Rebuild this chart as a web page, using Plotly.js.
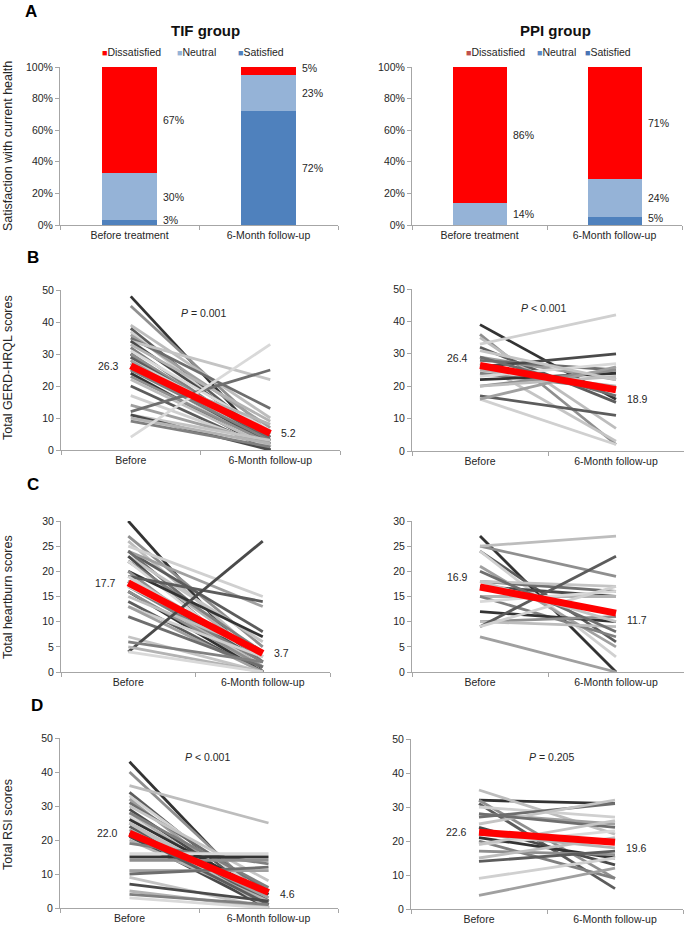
<!DOCTYPE html>
<html>
<head>
<meta charset="utf-8">
<script src="https://cdn.plot.ly/plotly-3.0.1.min.js"></script>
<style>
  html, body { margin: 0; padding: 0; background: #fff; }
  #chart { width: 684px; height: 928px; }
</style>
</head>
<body>
<div id="chart"></div>
<script>
const W = 684, H = 928;

// --- Panel A: satisfaction with current health (%)
const barCategories = ['Before treatment', '6-Month follow-up'];
const legendLabels = ['Dissatisfied', 'Neutral', 'Satisfied'];
const tifDissatisfied = [67, 5];
const tifNeutral = [30, 23];
const tifSatisfied = [3, 72];
const ppiDissatisfied = [86, 71];
const ppiNeutral = [14, 24];
const ppiSatisfied = [0, 5];

// --- Panels B-D: paired patient scores
const timeLabels = ['Before', '6-Month follow-up'];

const tifGerdBefore = [48, 45, 39, 38, 37, 36, 35, 34, 34, 33, 32, 31, 30, 30, 29, 29, 28, 28, 27, 27, 26, 25, 25, 24, 24, 23, 22, 20, 17, 14, 12, 11, 11, 10, 9, 4];
const tifGerdAfter  = [1, 5, 10, 3, 2, 7, 13, 22, 4, 9, 2, 6, 1, 3, 2, 3, 5, 1, 4, 0, 2, 8, 3, 1, 0, 2, 1, 0, 1, 2, 25, 3, 0, 2, 1, 33];
const ppiGerdBefore = [39, 36, 35, 32, 33, 29, 28, 27, 26, 25, 24, 23, 22, 20, 20, 17, 16, 16, 29, 31];
const ppiGerdAfter  = [16, 2, 7, 15, 42, 22, 25, 3, 30, 20, 19, 27, 24, 25, 23, 11, 2, 26, 17, 22];
const tifGerdMean = [26.3, 5.2];
const ppiGerdMean = [26.4, 18.9];

const tifBurnBefore = [30, 27, 26, 24, 25, 24, 24, 23, 23, 22, 22, 22, 20, 20, 19, 19, 19, 18, 18, 18, 18, 18, 17, 17, 16, 16, 15, 14, 13, 13, 11, 7, 4, 5, 6, 4];
const tifBurnAfter  = [0, 5, 3, 8, 15, 13, 2, 6, 0, 3, 4, 1, 7, 0, 3, 14, 2, 0, 1, 1, 2, 0, 2, 4, 0, 1, 4, 0, 3, 0, 1, 0, 26, 0, 2, 0];
const ppiBurnBefore = [27, 25, 25, 24, 24, 21, 18, 18, 17, 15, 15, 14, 12, 10, 10, 9, 9, 7, 20, 18];
const ppiBurnAfter  = [0, 19, 27, 6, 3, 5, 16, 17, 15, 15, 7, 16, 10, 11, 9, 23, 17, 0, 8, 10];
const tifBurnMean = [17.7, 3.7];
const ppiBurnMean = [16.9, 11.7];

const tifRsiBefore = [43, 40, 36, 34, 33, 32, 31, 30, 29, 28, 28, 27, 26, 25, 25, 24, 23, 23, 22, 21, 21, 20, 19, 16, 15, 14, 25, 22, 11, 11, 10, 9, 7, 5, 4, 3];
const tifRsiAfter  = [0, 2, 25, 1, 3, 0, 5, 8, 2, 1, 6, 0, 4, 1, 3, 2, 0, 3, 1, 1, 0, 2, 13, 16, 15, 14, 0, 1, 11, 11, 12, 0, 2, 0, 1, 0];
const ppiRsiBefore = [32, 32, 35, 31, 30, 28, 27, 25, 24, 22, 20, 19, 21, 17, 15, 14, 9, 4, 28, 19];
const ppiRsiAfter  = [31, 9, 22, 6, 27, 25, 31, 32, 13, 18, 9, 23, 15, 16, 21, 17, 15, 12, 24, 26];
const tifRsiMean = [22.0, 4.6];
const ppiRsiMean = [22.6, 19.6];

const pTexts = ['= 0.001', '< 0.001', '< 0.001', '< 0.001', '< 0.001', '= 0.205'];

const grayShades = ['#333333', '#8f8f8f', '#bdbdbd', '#5c5c5c', '#d0d0d0', '#a0a0a0', '#6e6e6e', '#c4c4c4', '#4a4a4a', '#b3b3b3', '#808080', '#d9d9d9'];

const FONT = 'Liberation Sans, Arial, sans-serif';
const textColor = '#262626';
const axisColor = '#a6a6a6';
const px = x => x / W;
const py = y => 1 - y / H;

function xAxis(cats, left, right, anchor) {
    return {
        domain: [px(left), px(right)], anchor: anchor,
        type: 'category', categoryarray: cats, range: [-0.5, 1.5],
        showline: true, linecolor: axisColor, linewidth: 1,
        ticks: 'outside', tickson: 'boundaries', ticklen: 4, tickcolor: axisColor,
        showgrid: false, zeroline: false, fixedrange: true,
        tickfont: { family: FONT, size: 10.5, color: textColor }
    };
}

function yAxis(top, bottom, max, dtick, anchor, suffix) {
    return {
        domain: [py(bottom), py(top)], anchor: anchor,
        range: [0, max], dtick: dtick, ticksuffix: suffix || '',
        showline: true, linecolor: axisColor, linewidth: 1,
        ticks: 'outside', ticklen: 4, tickcolor: axisColor,
        showgrid: false, zeroline: false, fixedrange: true,
        tickfont: { family: FONT, size: 10.5, color: textColor }
    };
}

const traces = [];
const annotations = [];
const layout = {
    width: W, height: H,
    margin: { l: 0, r: 0, t: 0, b: 0 },
    paper_bgcolor: '#fff', plot_bgcolor: '#fff',
    barmode: 'stack', showlegend: false,
    font: { family: FONT, color: textColor }
};

// Stacked bars (panel A)
const barColors = ['#4f81bd', '#95b3d7', '#ff0000'];
const barPanels = [
    { series: [tifSatisfied, tifNeutral, tifDissatisfied], n: '', left: 60, right: 338, title: 'TIF group', titleX: 205,
      legendX: [100, 175, 236], legendColors: ['#ff0000', '#95b3d7', '#4f81bd'] },
    { series: [ppiSatisfied, ppiNeutral, ppiDissatisfied], n: '2', left: 412, right: 682, title: 'PPI group', titleX: 555,
      legendX: [464, 535, 583], legendColors: ['#c0504d', '#5b8ac6', '#4a75b5'] }
];

barPanels.forEach(p => {
    const xa = 'x' + p.n, ya = 'y' + p.n;
    layout['xaxis' + p.n] = xAxis(barCategories, p.left, p.right, ya);
    layout['yaxis' + p.n] = yAxis(67, 225, 100, 20, xa, '%');

    p.series.forEach((vals, k) => {
        traces.push({
            type: 'bar', x: barCategories, y: vals, width: 0.4,
            marker: { color: barColors[k], line: { width: 0 } },
            xaxis: xa, yaxis: ya, hoverinfo: 'skip'
        });
    });

    // value labels to the right of each segment
    barCategories.forEach((c, i) => {
        let base = 0;
        p.series.forEach(vals => {
            const v = vals[i];
            if (v > 0) {
                annotations.push({
                    xref: xa, yref: ya, x: i + 0.23, y: base + v / 2,
                    xanchor: 'left', yanchor: 'middle', showarrow: false,
                    yshift: v < 6 ? 3 : 0,
                    text: v + '%', font: { family: FONT, size: 10.5, color: textColor }
                });
            }
            base += v;
        });
    });

    annotations.push({
        xref: 'paper', yref: 'paper', x: px(p.titleX), y: py(30),
        xanchor: 'center', yanchor: 'middle', showarrow: false,
        text: '<b>' + p.title + '</b>', font: { family: FONT, size: 15, color: '#111' }
    });

    legendLabels.forEach((lab, k) => {
        annotations.push({
            xref: 'paper', yref: 'paper', x: px(p.legendX[k]), y: py(52),
            xanchor: 'left', yanchor: 'middle', showarrow: false,
            text: '<span style="color:' + p.legendColors[k] + ';font-size:9px">■</span>' + lab,
            font: { family: FONT, size: 10.5, color: textColor }
        });
    });
});

// Paired line panels (B-D)
const linePanels = [
    { before: tifGerdBefore, after: tifGerdAfter, mean: tifGerdMean, n: '3', left: 61, right: 340, top: 290, bottom: 450, max: 50, dtick: 10, pX: 0.52, pY: 42.8, shift: [0, 0] },
    { before: ppiGerdBefore, after: ppiGerdAfter, mean: ppiGerdMean, n: '4', left: 412, right: 684, top: 289, bottom: 451, max: 50, dtick: 10, pX: 0.47, pY: 44, shift: [7, -9] },
    { before: tifBurnBefore, after: tifBurnAfter, mean: tifBurnMean, n: '5', left: 61, right: 330, top: 521, bottom: 672, max: 30, dtick: 5, pX: 0.58, pY: 31.6, shift: [0, 0] },
    { before: ppiBurnBefore, after: ppiBurnAfter, mean: ppiBurnMean, n: '6', left: 412, right: 684, top: 521, bottom: 672, max: 30, dtick: 5, pX: 0.49, pY: 31.8, shift: [10, -7] },
    { before: tifRsiBefore, after: tifRsiAfter, mean: tifRsiMean, n: '7', left: 60, right: 338, top: 738, bottom: 908, max: 50, dtick: 10, pX: 0.56, pY: 44.4, shift: [0, -2] },
    { before: ppiRsiBefore, after: ppiRsiAfter, mean: ppiRsiMean, n: '8', left: 411, right: 683, top: 739, bottom: 909, max: 50, dtick: 10, pX: 0.53, pY: 44.7, shift: [0, -6] }
];

linePanels.forEach((p, idx) => {
    const xa = 'x' + p.n, ya = 'y' + p.n;
    layout['xaxis' + p.n] = xAxis(timeLabels, p.left, p.right, ya);
    layout['yaxis' + p.n] = yAxis(p.top, p.bottom, p.max, p.dtick, xa);

    p.before.forEach((b, i) => {
        traces.push({
            type: 'scatter', mode: 'lines', x: timeLabels, y: [b, p.after[i]],
            line: { color: grayShades[i % grayShades.length], width: 2.8 },
            xaxis: xa, yaxis: ya, hoverinfo: 'skip', cliponaxis: false
        });
    });
    traces.push({
        type: 'scatter', mode: 'lines', x: timeLabels, y: p.mean,
        line: { color: '#ff0000', width: 7 },
        xaxis: xa, yaxis: ya, hoverinfo: 'skip', cliponaxis: false
    });

    annotations.push({
        xref: xa, yref: ya, x: 0, y: p.mean[0], xanchor: 'right', yanchor: 'middle',
        xshift: -10, yshift: p.shift[0], showarrow: false,
        text: p.mean[0].toFixed(1), font: { family: FONT, size: 10.5, color: textColor }
    });
    annotations.push({
        xref: xa, yref: ya, x: 1, y: p.mean[1], xanchor: 'left', yanchor: 'middle',
        xshift: 9, yshift: p.shift[1], showarrow: false,
        text: p.mean[1].toFixed(1), font: { family: FONT, size: 10.5, color: textColor }
    });
    annotations.push({
        xref: xa, yref: ya, x: p.pX, y: p.pY, xanchor: 'center', yanchor: 'middle', showarrow: false,
        text: '<i>P</i> ' + pTexts[idx], font: { family: FONT, size: 10.5, color: textColor }
    });
});

// Y axis titles (left column only)
const yTitles = [
    ['Satisfaction with current health', 146],
    ['Total GERD-HRQL scores', 368],
    ['Total heartburn scores', 597],
    ['Total RSI scores', 825]
];
yTitles.forEach(([t, y]) => {
    annotations.push({
        xref: 'paper', yref: 'paper', x: px(8), y: py(y), textangle: -90,
        xanchor: 'center', yanchor: 'middle', showarrow: false,
        text: t, font: { family: FONT, size: 12.5, color: textColor }
    });
});

// Panel letters
[['A', 31, 11], ['B', 33, 258], ['C', 33, 484], ['D', 37, 705]].forEach(([t, x, y]) => {
    annotations.push({
        xref: 'paper', yref: 'paper', x: px(x), y: py(y),
        xanchor: 'center', yanchor: 'middle', showarrow: false,
        text: '<b>' + t + '</b>', font: { family: FONT, size: 17, color: '#000' }
    });
});

layout.annotations = annotations;

Plotly.newPlot('chart', traces, layout, { staticPlot: true, displayModeBar: false });
</script>
</body>
</html>
